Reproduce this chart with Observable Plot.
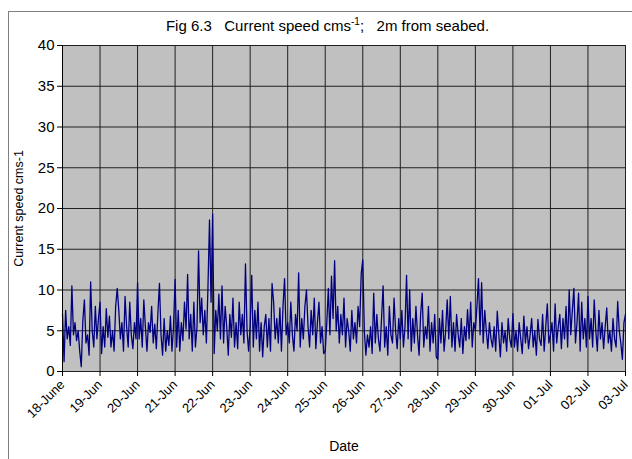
<!DOCTYPE html>
<html>
<head>
<meta charset="utf-8">
<script src="https://cdn.jsdelivr.net/npm/d3@7"></script>
<script src="https://cdn.jsdelivr.net/npm/@observablehq/plot@0.6"></script>
<style>
  html, body { margin: 0; padding: 0; background: #fff; overflow: hidden; }
  body { width: 632px; height: 459px; position: relative; font-family: "Liberation Sans", Arial, sans-serif; }
  #frame { position: absolute; left: 8px; top: 11px; width: 640px; height: 470px; border: 1px solid #7f7f7f; box-sizing: border-box; }
  #title { height: 25px; line-height: 27px; font-size: 15px; text-align: center; padding-left: 14px; box-sizing: border-box; width: 623px; color: #000; white-space: pre; }
  #title sup { font-size: 10px; vertical-align: 6px; line-height: 0; }
  #chart svg { display: block; }
</style>
</head>
<body>
<div id="frame">
  <div id="title">Fig 6.3   Current speed cms<sup>-1</sup>;   2m from seabed.</div>
  <div id="chart"></div>
</div>
<script>
// Hourly current speed (cm/s), one array per day
const startDate = Date.UTC(2004, 5, 18);
const day18 = [7.0, 1.2, 7.5, 4.0, 5.5, 3.2, 10.5, 4.5, 6.0, 3.8, 5.0, 2.5, 0.6, 6.2, 8.8, 3.5, 4.5, 2.0, 11.0, 5.0, 3.0, 8.0, 4.0, 6.5];
const day19 = [8.5, 2.2, 5.5, 3.0, 7.7, 4.2, 6.8, 3.0, 5.0, 2.5, 8.0, 10.2, 7.5, 4.0, 6.0, 2.5, 9.2, 5.5, 3.0, 8.5, 4.5, 2.8, 6.0, 4.0];
const day20 = [10.9, 4.0, 6.5, 3.0, 8.8, 5.5, 2.5, 6.0, 4.8, 8.0, 3.5, 5.8, 2.8, 7.2, 10.8, 4.5, 2.0, 6.5, 2.5, 5.0, 3.2, 6.8, 2.5, 5.5];
const day21 = [11.3, 3.0, 7.5, 2.5, 6.0, 3.8, 8.5, 5.2, 11.9, 4.0, 7.0, 2.5, 8.5, 3.0, 5.5, 14.8, 6.0, 9.0, 4.5, 7.5, 3.5, 10.2, 18.6, 8.5];
const day22 = [19.3, 2.2, 7.5, 5.0, 9.5, 4.0, 10.5, 3.5, 8.0, 5.5, 2.0, 7.0, 4.2, 9.0, 3.0, 6.0, 2.8, 8.5, 4.5, 7.0, 3.5, 13.2, 5.0, 2.5];
const day23 = [5.5, 11.8, 3.0, 7.5, 4.0, 8.5, 2.5, 6.0, 1.8, 5.5, 7.0, 3.0, 6.5, 2.5, 10.8, 8.5, 4.0, 6.5, 3.5, 7.8, 2.5, 8.0, 11.4, 4.5];
const day24 = [6.0, 3.5, 8.5, 4.5, 2.5, 7.0, 5.0, 12.1, 3.0, 6.5, 4.0, 8.0, 10.0, 5.5, 3.0, 7.5, 4.5, 9.0, 2.8, 6.0, 8.5, 3.5, 5.5, 2.2];
const day25 = [2.5, 6.0, 10.2, 4.5, 11.7, 6.5, 13.6, 5.0, 8.0, 3.5, 7.0, 4.5, 9.0, 3.0, 6.5, 5.0, 2.5, 7.5, 4.0, 6.0, 3.5, 8.0, 5.5, 12.0];
const day26 = [13.7, 5.0, 2.0, 4.5, 3.0, 5.5, 2.2, 9.6, 3.5, 7.0, 4.0, 2.5, 6.5, 10.5, 3.0, 5.5, 2.0, 8.0, 4.5, 3.5, 9.0, 5.0, 2.8, 6.5];
const day27 = [4.0, 7.5, 3.0, 5.5, 11.8, 4.0, 10.0, 2.5, 6.5, 3.5, 8.0, 4.5, 2.0, 7.0, 9.6, 3.0, 5.5, 4.0, 8.0, 2.5, 6.0, 3.5, 7.0, 1.8];
const day28 = [1.5, 6.5, 3.5, 7.5, 2.5, 5.0, 8.8, 4.0, 9.2, 3.0, 6.0, 2.5, 7.0, 4.5, 3.0, 6.5, 2.2, 5.5, 3.8, 7.6, 4.0, 8.5, 3.0, 6.0];
const day29 = [5.0, 8.0, 11.4, 4.5, 10.9, 3.5, 7.5, 5.0, 2.8, 6.0, 4.0, 3.0, 5.5, 2.5, 7.4, 4.5, 1.8, 6.0, 3.5, 5.0, 2.5, 6.5, 4.0, 3.0];
const day30 = [7.1, 3.0, 5.0, 2.5, 6.0, 4.0, 2.2, 6.8, 3.5, 5.5, 2.8, 4.5, 6.5, 3.0, 5.0, 2.0, 6.4, 4.0, 3.2, 7.0, 2.5, 5.5, 8.3, 3.5];
const day01 = [4.5, 6.0, 2.5, 8.3, 3.5, 5.5, 7.0, 2.8, 6.5, 4.0, 8.0, 3.0, 10.0, 4.5, 7.5, 10.2, 3.5, 6.0, 9.6, 2.5, 8.5, 4.0, 6.5, 3.0];
const day02 = [9.2, 4.0, 6.5, 3.0, 8.8, 5.0, 2.5, 7.5, 4.0, 6.0, 2.8, 5.5, 7.8, 3.5, 5.0, 2.5, 6.5, 4.0, 3.0, 8.6, 5.0, 3.5, 1.5, 6.0];
const day03 = [7.0];

const tickLabels = ["18-June", "19-Jun", "20-Jun", "21-Jun", "22-Jun", "23-Jun", "24-Jun", "25-Jun",
  "26-Jun", "27-Jun", "28-Jun", "29-Jun", "30-Jun", "01-Jul", "02-Jul", "03-Jul"];
const yTicks = [0, 5, 10, 15, 20, 25, 30, 35, 40];

const speeds = [].concat(day18, day19, day20, day21, day22, day23, day24, day25, day26, day27,
  day28, day29, day30, day01, day02, day03);
const data = speeds.map((v, i) => ({ time: new Date(startDate + i * 3600000), speed: v }));
const dayTicks = tickLabels.map((_, i) => new Date(startDate + i * 86400000));
const labelOf = new Map(dayTicks.map((d, i) => [+d, tickLabels[i]]));

const W = 623, H = 423;
const chart = Plot.plot({
  width: W,
  height: H,
  marginLeft: 53,
  marginRight: 7,
  marginTop: 8,
  marginBottom: 89,
  style: { fontFamily: "'Liberation Sans', Arial, sans-serif", color: "#000", background: "transparent" },
  x: { type: "utc", domain: [dayTicks[0], dayTicks[dayTicks.length - 1]] },
  y: { domain: [0, 40] },
  marks: [
    Plot.frame({ fill: "#c0c0c0", stroke: null }),
    Plot.ruleY(yTicks, { stroke: "#202020", strokeWidth: 1 }),
    Plot.ruleX(dayTicks, { stroke: "#202020", strokeWidth: 1 }),
    Plot.line(data, { x: "time", y: "speed", stroke: "#000080", strokeWidth: 1.3 }),
    Plot.ruleX([dayTicks[0]], { stroke: "#000", strokeWidth: 1 }),
    Plot.axisY({ ticks: yTicks, tickSize: 5, tickPadding: 3, fontSize: 15, label: null, stroke: "#000" }),
    Plot.axisX({ ticks: dayTicks, tickSize: 5, tickRotate: -45, tickPadding: 6, fontSize: 13, label: null,
      tickFormat: d => labelOf.get(+d) }),
    Plot.text(["Date"], { frameAnchor: "bottom", dy: 79, fontSize: 14 }),
    Plot.text(["Current speed cms-1"], { frameAnchor: "left", textAnchor: "middle", dx: -44, rotate: -90, fontSize: 12.5 })
  ]
});
document.getElementById("chart").appendChild(chart);
</script>
</body>
</html>
